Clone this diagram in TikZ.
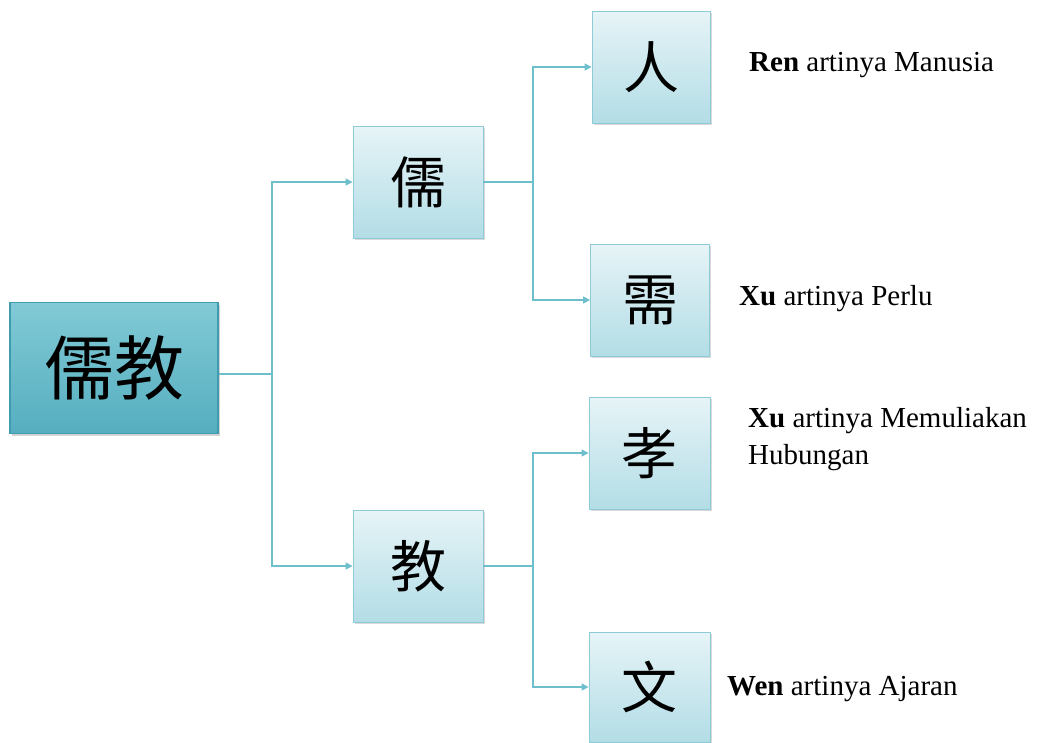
\documentclass[tikz,border=0pt]{standalone}
\usepackage{fontspec}
\setmainfont{Liberation Serif}
\newfontfamily\cjk{Noto Sans CJK TC}
\usetikzlibrary{arrows.meta,shadows}
\definecolor{tealline}{HTML}{6CBFCB}
\definecolor{rootedge}{HTML}{3F9CAF}
\definecolor{roottop}{HTML}{82CAD6}
\definecolor{rootbot}{HTML}{55AEBF}
\definecolor{kidtop}{HTML}{E6F4F7}
\definecolor{kidbot}{HTML}{B3DDE6}
\definecolor{kidedge}{HTML}{8FCBD6}
\tikzset{
  rootbox/.style={draw=rootedge, line width=1.2pt, top color=roottop, bottom color=rootbot,
    minimum width=208pt, minimum height=131pt, inner sep=0pt,
    drop shadow={opacity=0.35, shadow xshift=1.5pt, shadow yshift=-2pt},
    font=\cjk\fontsize{70}{74}\selectfont},
  kidbox/.style={draw=kidedge, line width=0.8pt, top color=kidtop, bottom color=kidbot,
    minimum width=#1, minimum height=112pt, inner sep=0pt,
    drop shadow={opacity=0.3, shadow xshift=1.5pt, shadow yshift=-2pt},
    font=\cjk\fontsize{56}{60}\selectfont},
  kidbox/.default=120pt,
  conn/.style={draw=tealline, line width=1.3pt},
  arr/.style={conn, -{Triangle[width=7pt,length=7pt]}},
  lab/.style={anchor=west, inner sep=0pt, font=\fontsize{29}{37}\selectfont, align=left}
}
\begin{document}
\begin{tikzpicture}[x=1pt,y=-1pt]
\useasboundingbox (0,0) rectangle (1044,742);
\node[rootbox] (root) at (114,368) {儒教};
\node[kidbox=130pt] (ru) at (418,182) {儒};
\node[kidbox=130pt] (jiao) at (418,566) {教};
\node[kidbox=118pt] (ren) at (651,67) {人};
\node[kidbox=119pt] (xu) at (650,300) {需};
\node[kidbox=121pt] (xiao) at (649.5,453) {孝};
\node[kidbox=121pt, minimum height=110pt] (wen) at (649.5,687) {文};
\coordinate (j0) at (272,374);
\coordinate (j1) at (533,182);
\coordinate (j2) at (533,566);
\draw[conn] (root.east |- j0) -- (j0);
\draw[arr] (j0) |- (ru.west);
\draw[arr] (j0) |- (jiao.west);
\draw[conn] (ru.east) -- (j1);
\draw[arr] (j1) |- (ren.west);
\draw[arr] (j1) |- (xu.west);
\draw[conn] (jiao.east) -- (j2);
\draw[arr] (j2) |- (xiao.west);
\draw[arr] (j2) |- (wen.west);
\node[lab] (t1) at (749,65) {\textbf{Ren} artinya Manusia};
\node[lab] (t2) at (739,299) {\textbf{Xu} artinya Perlu};
\node[lab, anchor=north west] (t3) at (748,407) {\textbf{Xu} artinya Memuliakan\\Hubungan};
\node[lab] (t4) at (727,689) {\textbf{Wen} artinya Ajaran};
\end{tikzpicture}
\end{document}
